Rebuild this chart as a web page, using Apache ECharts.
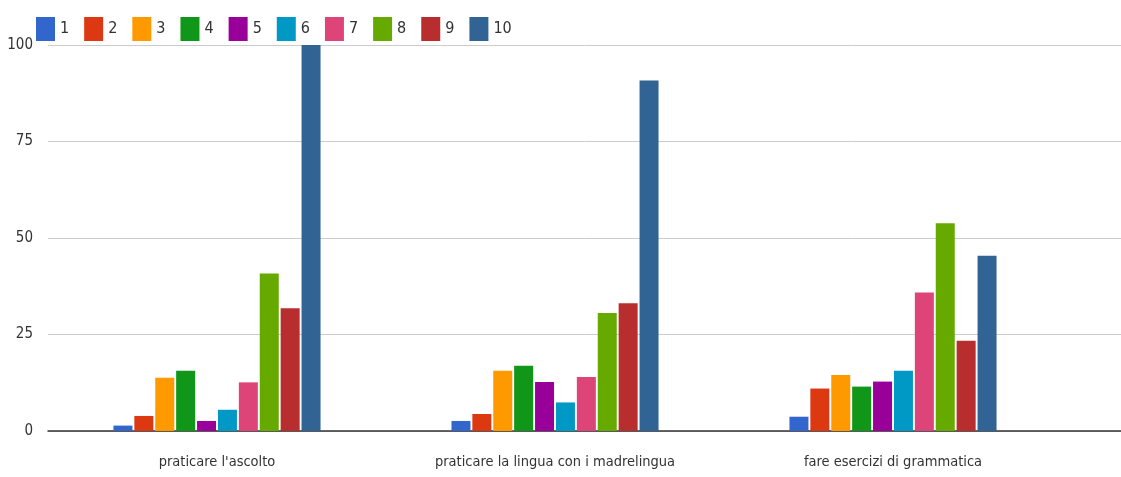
<!DOCTYPE html>
<html>
<head>
<meta charset="utf-8">
<script src="https://cdn.jsdelivr.net/npm/echarts@6/dist/echarts.min.js"></script>
<style>
  html, body { margin: 0; padding: 0; background: #fff; }
  #chart { width: 1121px; height: 477px; }
</style>
</head>
<body>
<div id="chart"></div>
<script>
// categorie (asse x)
var categories = ['praticare l\'ascolto', 'praticare la lingua con i madrelingua', 'fare esercizi di grammatica'];
// voti 1..10
var seriesNames = ['1', '2', '3', '4', '5', '6', '7', '8', '9', '10'];
var colors = ['#3366cc', '#dc3912', '#ff9900', '#109618', '#990099', '#0099c6', '#dd4477', '#66aa00', '#b82e2e', '#316395'];
// valori per voto, uno per categoria
var v1 = [1.4, 2.6, 3.7];
var v2 = [3.9, 4.4, 11];
var v3 = [13.8, 15.6, 14.5];
var v4 = [15.6, 16.9, 11.5];
var v5 = [2.6, 12.7, 12.8];
var v6 = [5.5, 7.4, 15.6];
var v7 = [12.6, 14, 35.9];
var v8 = [40.8, 30.6, 53.8];
var v9 = [31.8, 33.1, 23.4];
var v10 = [100, 90.8, 45.4];
var values = [v1, v2, v3, v4, v5, v6, v7, v8, v9, v10];
var yTicks = [0, 25, 50, 75, 100];

var font = '"Liberation Sans Narrow", "DejaVu Sans Condensed", "Liberation Sans", sans-serif';

var myChart = echarts.init(document.getElementById('chart'));

var series = seriesNames.map(function (name, i) {
    return {
        name: name,
        type: 'bar',
        xAxisIndex: 1,
        yAxisIndex: 1,
        barWidth: 19,
        barGap: '10%',
        itemStyle: { color: colors[i] },
        data: values[i]
    };
});

var option = {
    backgroundColor: '#fff',
    animation: false,
    color: colors,
    textStyle: { fontFamily: font },
    legend: {
        data: seriesNames,
        left: 31,
        top: 12,
        itemWidth: 19,
        itemHeight: 24,
        itemGap: 15,
        icon: 'rect',
        textStyle: { fontFamily: font, fontSize: 16, color: '#333' }
    },
    grid: [
        // griglia di sfondo (linee fino al bordo destro)
        { left: 48, right: 0, top: 45, bottom: 46 },
        // griglia delle barre
        { left: 48, width: 1014, top: 45, bottom: 46 }
    ],
    xAxis: [
        {
            type: 'category',
            gridIndex: 0,
            data: [''],
            axisLine: { show: true, lineStyle: { color: '#333', width: 1.5 } },
            axisTick: { show: false },
            axisLabel: { show: false }
        },
        {
            type: 'category',
            gridIndex: 1,
            data: categories,
            axisLine: { show: false },
            axisTick: { show: false },
            axisLabel: { interval: 0, margin: 24, fontFamily: font, fontSize: 14.5, color: '#333' }
        }
    ],
    yAxis: [
        {
            type: 'value',
            gridIndex: 0,
            min: yTicks[0],
            max: yTicks[yTicks.length - 1],
            interval: 25,
            axisLine: { show: false },
            axisTick: { show: false },
            splitLine: { lineStyle: { color: '#cccccc', width: 1 } },
            axisLabel: { margin: 15, fontFamily: font, fontSize: 15, color: '#333' }
        },
        {
            type: 'value',
            gridIndex: 1,
            min: 0,
            max: 100,
            show: false,
            splitLine: { show: false }
        }
    ],
    series: series
};

myChart.setOption(option);
</script>
</body>
</html>
